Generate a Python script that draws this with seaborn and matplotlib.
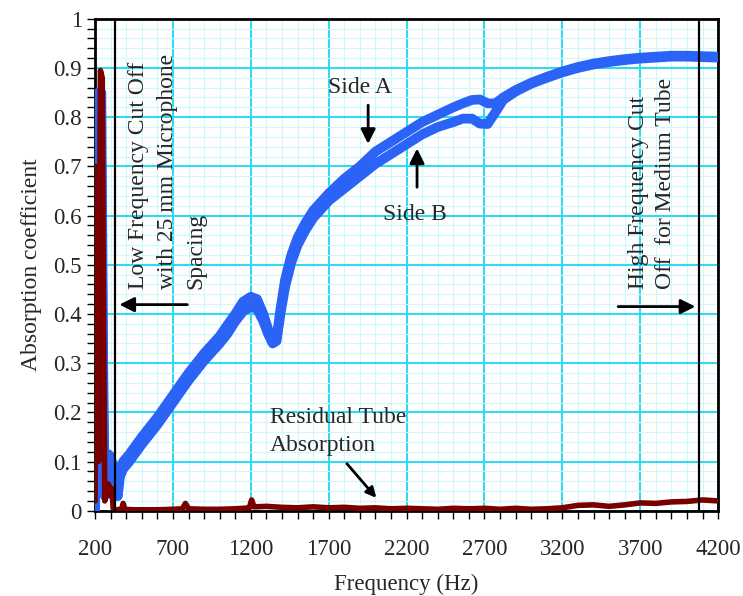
## absorption coefficient of the sample, side A / side B + residual tube absorption
import numpy as np
import pandas as pd
import matplotlib
matplotlib.use('Agg')
import matplotlib.pyplot as plt
import seaborn as sns
from matplotlib.ticker import MultipleLocator

## data
freq = [200, 205, 212, 222, 240, 252, 262, 270, 285, 300, 315, 330, 345, 360, 380, 420,
        500, 600, 700, 800, 900, 1000, 1050, 1100, 1150, 1200, 1240, 1280, 1310, 1340,
        1365, 1390, 1420, 1460, 1500, 1550, 1600, 1700, 1800, 1900, 2000, 2100, 2200,
        2300, 2400, 2500, 2560, 2620, 2670, 2720, 2770, 2820, 2900, 3000, 3100, 3200,
        3300, 3400, 3500, 3600, 3700, 3800, 3900, 4000, 4100, 4200]

side_a = [0.02, 0.45, 0.10, 0.85, 0.85, 0.30, 0.03, 0.10, 0.115, 0.11, 0.09, 0.05, 0.03, 0.085, 0.10, 0.115,
          0.15, 0.19, 0.235, 0.28, 0.32, 0.355, 0.378, 0.40, 0.425, 0.435, 0.43, 0.40, 0.37, 0.345,
          0.35, 0.41, 0.47, 0.52, 0.555, 0.585, 0.61, 0.645, 0.675, 0.70, 0.73, 0.75, 0.77,
          0.79, 0.805, 0.82, 0.828, 0.835, 0.836, 0.828, 0.828, 0.84, 0.855, 0.87, 0.882, 0.893,
          0.902, 0.909, 0.914, 0.918, 0.921, 0.923, 0.925, 0.925, 0.924, 0.923]

side_b = [0.0, 0.30, 0.05, 0.60, 0.70, 0.20, 0.04, 0.08, 0.10, 0.095, 0.07, 0.04, 0.03, 0.07, 0.085, 0.10,
          0.135, 0.175, 0.22, 0.265, 0.305, 0.34, 0.36, 0.385, 0.405, 0.415, 0.41, 0.385, 0.36, 0.34,
          0.345, 0.40, 0.455, 0.505, 0.54, 0.57, 0.595, 0.63, 0.655, 0.68, 0.705, 0.725, 0.745,
          0.765, 0.78, 0.79, 0.797, 0.797, 0.787, 0.786, 0.81, 0.835, 0.852, 0.868, 0.88, 0.891,
          0.90, 0.907, 0.912, 0.916, 0.919, 0.921, 0.923, 0.923, 0.922, 0.921]

freq_res = [200, 204, 208, 214, 222, 234, 246, 254, 262, 272, 282, 292, 300, 308, 316, 330, 370, 380,
            390, 450, 500, 600, 700, 760, 780, 800, 900, 1000, 1100, 1150, 1190, 1205, 1220,
            1300, 1400, 1500, 1600, 1700, 1800, 1900, 2000, 2100, 2200, 2300, 2400, 2500,
            2600, 2700, 2800, 2900, 3000, 3100, 3200, 3300, 3400, 3500, 3600, 3700, 3800,
            3900, 4000, 4100, 4200]
residual = [0.02, 0.70, 0.15, 0.60, 0.10, 0.895, 0.88, 0.40, 0.02, 0.04, 0.055, 0.05, 0.03, 0.045, 0.005, 0.002, 0.003, 0.015,
            0.003, 0.002, 0.002, 0.002, 0.003, 0.004, 0.015, 0.004, 0.003, 0.003, 0.004, 0.005, 0.006, 0.022, 0.008,
            0.009, 0.007, 0.006, 0.008, 0.006, 0.007, 0.005, 0.006, 0.004, 0.005, 0.004, 0.003, 0.005,
            0.004, 0.005, 0.003, 0.005, 0.003, 0.004, 0.006, 0.011, 0.012, 0.009, 0.012, 0.016, 0.015,
            0.018, 0.019, 0.022, 0.020]

cutoffs = [330, 4080]
xticks = [200, 700, 1200, 1700, 2200, 2700, 3200, 3700, 4200]
yticks = [0, 0.1, 0.2, 0.3, 0.4, 0.5, 0.6, 0.7, 0.8, 0.9, 1]
ytick_labels = ['0', '0.1', '0.2', '0.3', '0.4', '0.5', '0.6', '0.7', '0.8', '0.9', '1']

data = pd.DataFrame({'freq': freq, 'A': side_a, 'B': side_b})
res = pd.DataFrame({'freq': freq_res, 'res': residual})

## style
sns.set_style('white')
plt.rcParams['font.family'] = ['Liberation Serif', 'DejaVu Serif']

fig = plt.figure(figsize=(7.43, 5.96), dpi=100)
ax = fig.add_axes([0.128, 0.143, 0.8385, 0.8255])

blue = '#2B63F7'
sns.lineplot(x=data['freq'], y=data['A'], ax=ax, color=blue, lw=7, sort=False, estimator=None,
             solid_capstyle='round', solid_joinstyle='round', zorder=3)
sns.lineplot(x=data['freq'], y=data['B'], ax=ax, color=blue, lw=7, sort=False, estimator=None,
             solid_capstyle='round', solid_joinstyle='round', zorder=3)
sns.lineplot(x=res['freq'], y=res['res'], ax=ax, color='#7A0000', lw=4, sort=False, estimator=None,
             solid_joinstyle='round', zorder=4)

for c in cutoffs:
    ax.axvline(c, color='black', lw=1.6, zorder=5)

ax.set_xlim(200, 4200)
ax.set_ylim(0, 1)
ax.set_xticks(xticks)
ax.set_yticks(yticks)
ax.set_yticklabels(ytick_labels)
ax.xaxis.set_minor_locator(MultipleLocator(100))
ax.yaxis.set_minor_locator(MultipleLocator(0.02))
ax.grid(which='major', color='#22DDF5', lw=1.4, zorder=0)
ax.grid(which='minor', color='#CFF7FC', lw=0.8, zorder=0)
ax.set_axisbelow(True)
ax.tick_params(which='both', direction='out', length=6, width=1, color='black',
               bottom=True, left=True, labelsize=16.5)
ax.tick_params(axis='x', pad=14)
for s in ax.spines.values():
    s.set_color('black')
    s.set_linewidth(2)

ax.set_xlabel('Frequency (Hz)', fontsize=16.5, labelpad=10)
ax.set_ylabel('Absorption coefficient', fontsize=17, labelpad=8)

## annotations
arrow = dict(arrowstyle='-|>', color='black', lw=2, mutation_scale=22)
ax.text(662, 0.45, 'Low Frequency Cut Off\nwith 25 mm Microphone\nSpacing', rotation=90,
        ha='center', va='bottom', multialignment='left', fontsize=17, linespacing=1.5, zorder=6)
ax.annotate('', xy=(338, 0.419), xytext=(810, 0.419), arrowprops=arrow, zorder=6)
ax.text(3776, 0.45, 'High Frequency Cut\nOff  for Medium Tube', rotation=90,
        ha='center', va='bottom', multialignment='left', fontsize=17, linespacing=1.38, zorder=6)
ax.annotate('', xy=(4072, 0.415), xytext=(3540, 0.415), arrowprops=arrow, zorder=6)

ax.text(1901, 0.86, 'Side A', ha='center', va='center', fontsize=17, zorder=6)
ax.annotate('', xy=(1953, 0.74), xytext=(1953, 0.83), arrowprops=arrow, zorder=6)
ax.text(2254, 0.603, 'Side B', ha='center', va='center', fontsize=17, zorder=6)
ax.annotate('', xy=(2267, 0.742), xytext=(2267, 0.652), arrowprops=arrow, zorder=6)

ax.text(1323, 0.21, 'Residual Tube\nAbsorption', ha='left', va='top', fontsize=17,
        linespacing=1.4, zorder=6)
ax.annotate('', xy=(2017, 0.022), xytext=(1805, 0.1), arrowprops=dict(arrowstyle='-|>', color='black',
            lw=2, mutation_scale=15), zorder=6)

fig.savefig('out.png', dpi=100)
